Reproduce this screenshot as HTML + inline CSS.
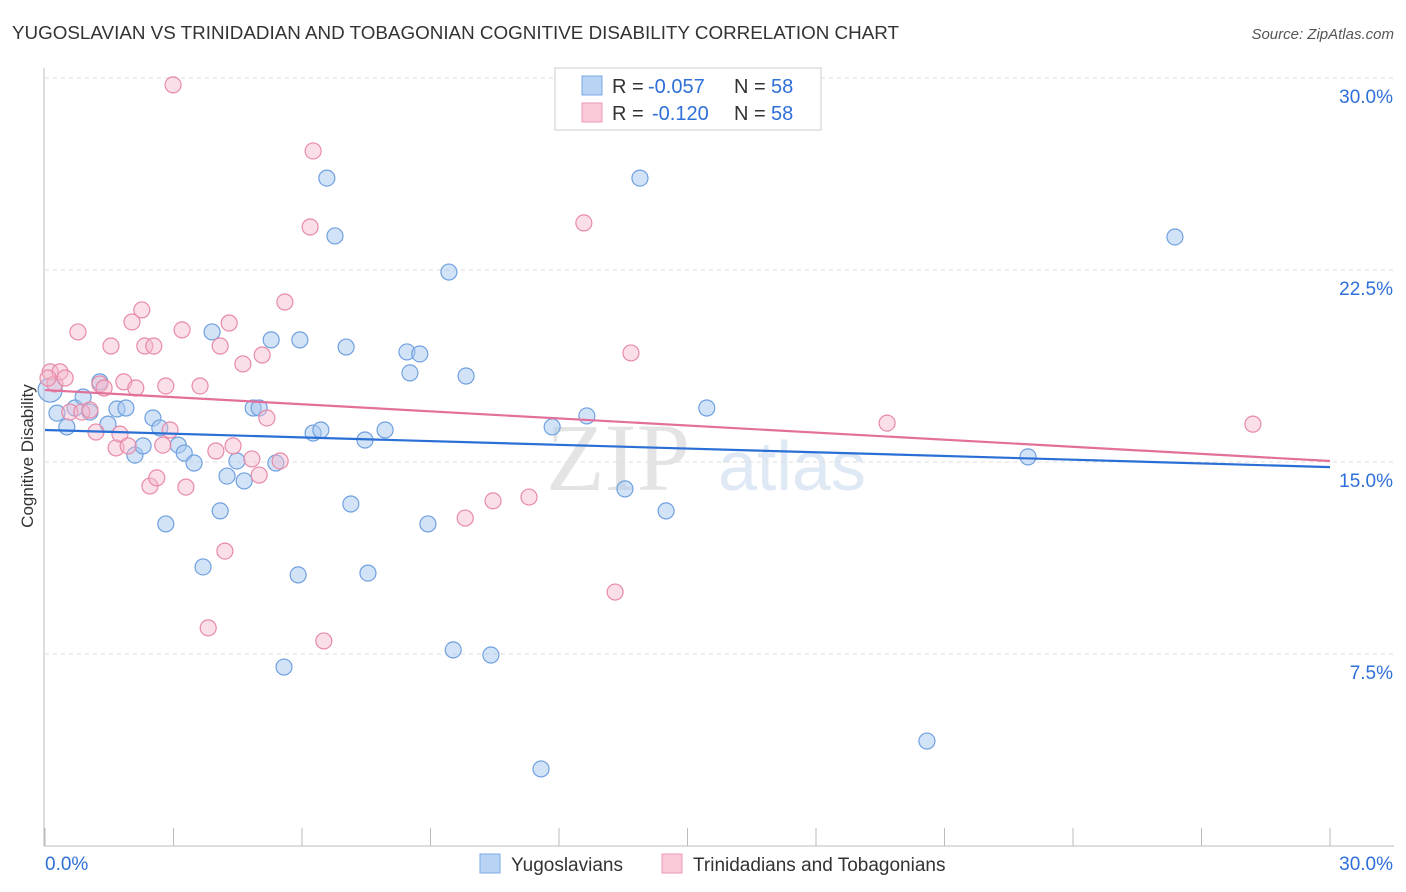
<!DOCTYPE html>
<html><head><meta charset="utf-8"><style>
body{margin:0;background:#fff;font-family:"Liberation Sans",sans-serif;}
#wrap{position:relative;width:1406px;height:892px;overflow:hidden}
</style></head><body>
<div id="wrap">
<svg id="svg" width="1406" height="892" xmlns="http://www.w3.org/2000/svg">
<text x="12" y="39" font-size="18" textLength="887" lengthAdjust="spacingAndGlyphs" fill="#333">YUGOSLAVIAN VS TRINIDADIAN AND TOBAGONIAN COGNITIVE DISABILITY CORRELATION CHART</text>
<text x="1394" y="39" font-size="15" fill="#555" font-style="italic" text-anchor="end">Source: ZipAtlas.com</text>
<text x="33" y="456" font-size="17" fill="#333" text-anchor="middle" transform="rotate(-90 33 456)">Cognitive Disability</text>
<text x="690" y="490" font-size="96" fill="#e4e4e4" font-family="Liberation Serif,serif" text-anchor="end">ZIP</text>
<text x="718" y="490" font-size="70" fill="#dfe8f5">atlas</text>
<g id="grid"></g><g id="pts"></g><g id="lines"></g>
<g>
<rect x="555" y="68" width="266" height="62" fill="#fff" stroke="#ccc"/>
<rect x="582" y="76" width="20" height="19" fill="#b9d3f5" stroke="#7aa8e6"/>
<rect x="582" y="103" width="20" height="19" fill="#fbc9d8" stroke="#eb9ab4"/>
<text x="612" y="93" font-size="20" fill="#333">R =</text>
<text x="648" y="93" font-size="20" fill="#2e6fd8">-0.057</text>
<text x="734" y="93" font-size="20" fill="#333">N =</text>
<text x="771" y="93" font-size="20" fill="#2e6fd8">58</text>
<text x="612" y="120" font-size="20" fill="#333">R =</text>
<text x="652" y="120" font-size="20" fill="#2e6fd8">-0.120</text>
<text x="734" y="120" font-size="20" fill="#333">N =</text>
<text x="771" y="120" font-size="20" fill="#2e6fd8">58</text>
</g>
<g>
<rect x="480" y="854" width="20" height="19" fill="#b9d3f5" stroke="#7aa8e6"/>
<text x="511" y="871" font-size="19" fill="#333">Yugoslavians</text>
<rect x="662" y="854" width="20" height="19" fill="#fbc9d8" stroke="#eb9ab4"/>
<text x="693" y="871" font-size="19" fill="#333">Trinidadians and Tobagonians</text>
</g>
</svg></div>
<script>
const yTicks=[7.5,15,22.5,30];
const yTickLabels=["7.5%","15.0%","22.5%","30.0%"];
const xTicks=[0,3,6,9,12,15,18,21,24,27,30];
const blueX=[0.28,0.51,0.70,0.89,1.05,1.28,1.47,1.68,1.89,2.10,2.29,2.52,2.68,2.82,3.11,3.25,3.48,3.69,3.90,4.09,4.25,4.48,4.65,4.86,5.00,5.28,5.39,5.58,5.91,5.95,6.26,6.44,6.58,6.77,7.03,7.14,7.47,7.54,7.94,8.45,8.52,8.75,8.94,9.43,9.53,9.83,10.41,11.58,11.84,12.65,13.54,13.89,14.50,15.45,20.59,22.95,26.38,0.12];
const blueY=[16.91,16.37,17.11,17.54,16.95,18.13,16.48,17.07,17.11,15.27,15.63,16.72,16.33,12.58,15.66,15.35,14.96,10.90,20.08,13.09,14.45,15.04,14.26,17.11,17.11,19.77,14.96,6.99,10.59,19.77,16.13,16.25,26.09,23.83,19.49,13.36,15.86,10.66,16.25,19.30,18.48,19.22,12.58,22.42,7.66,18.36,7.46,3.01,16.37,16.80,13.95,26.09,13.09,17.11,4.10,15.20,23.79,17.81];
const pinkX=[0.12,0.23,0.35,0.47,0.58,0.77,0.86,1.05,1.19,1.28,1.38,1.54,1.66,1.75,1.84,1.94,2.03,2.12,2.26,2.33,2.45,2.54,2.61,2.75,2.82,2.92,2.99,3.20,3.29,3.62,3.81,3.99,4.09,4.20,4.30,4.39,4.62,4.83,5.00,5.07,5.18,5.49,5.60,6.19,6.26,6.51,9.81,10.46,11.30,12.58,13.31,13.68,19.66,28.20,0.07];
const pinkY=[18.52,18.05,18.52,18.28,16.95,20.08,16.95,17.03,16.17,18.05,17.89,19.53,15.55,16.09,18.13,15.63,20.47,17.89,20.94,19.53,14.06,19.53,14.38,15.66,17.97,16.25,29.73,20.16,14.02,17.97,8.52,15.43,19.53,11.52,20.43,15.63,18.83,15.12,14.49,19.18,16.72,15.04,21.25,24.18,27.15,8.01,12.81,13.48,13.63,24.34,9.92,19.26,16.52,16.48,18.28];
const blueTrend=[16.25,14.80];
const pinkTrend=[17.81,15.04];
const X=v=>45+v/30*1285, Y=v=>846-v/30*768;
const NS="http://www.w3.org/2000/svg";
function mk(t,a,p){const e=document.createElementNS(NS,t);for(const k in a)e.setAttribute(k,a[k]);p.appendChild(e);return e;}
const g=document.getElementById('grid');
yTicks.forEach((t,i)=>{
 const l=mk('line',{x1:45,x2:1394,y1:Y(t),y2:Y(t),stroke:'#ddd','stroke-dasharray':'4,4'},g);
 
 
 const tx=mk('text',{x:1393,y:Y(t)+25,'font-size':19,fill:'#2e6fd8','text-anchor':'end'},g);
 tx.textContent=yTickLabels[i];
 
 
});
const ax=mk('line',{x1:44,x2:44,y1:68,y2:846,stroke:'#bbb'},g);


const bx=mk('line',{x1:44,x2:1394,y1:846,y2:846,stroke:'#bbb'},g);


xTicks.forEach(t=>{
 const l=mk('line',{x1:X(t),x2:X(t),y1:828,y2:846,stroke:'#bbb'},g);
 
 
});
const x0=mk('text',{x:45,y:870,'font-size':19,fill:'#2e6fd8'},g);x0.textContent='0.0%';


const x1=mk('text',{x:1393,y:870,'font-size':19,fill:'#2e6fd8','text-anchor':'end'},g);x1.textContent='30.0%';


const P=document.getElementById('pts');
blueX.forEach((v,i)=>{
 const c=mk('circle',{cx:X(v),cy:Y(blueY[i]),r:i===blueX.length-1?12:8,fill:'rgba(168,200,240,0.5)',stroke:'#6fa0e0','stroke-width':1.2},P);
 
 
});
pinkX.forEach((v,i)=>{
 const c=mk('circle',{cx:X(v),cy:Y(pinkY[i]),r:8,fill:'rgba(245,184,204,0.45)',stroke:'#e88aa8','stroke-width':1.2},P);
 
 
});
const L=document.getElementById('lines');
const bl=mk('line',{x1:X(0),x2:X(30),y1:Y(blueTrend[0]),y2:Y(blueTrend[1]),stroke:'#2a6fd6','stroke-width':2.2},L);


const pl=mk('line',{x1:X(0),x2:X(30),y1:Y(pinkTrend[0]),y2:Y(pinkTrend[1]),stroke:'#e2709a','stroke-width':2.2},L);


</script>
</body></html>
